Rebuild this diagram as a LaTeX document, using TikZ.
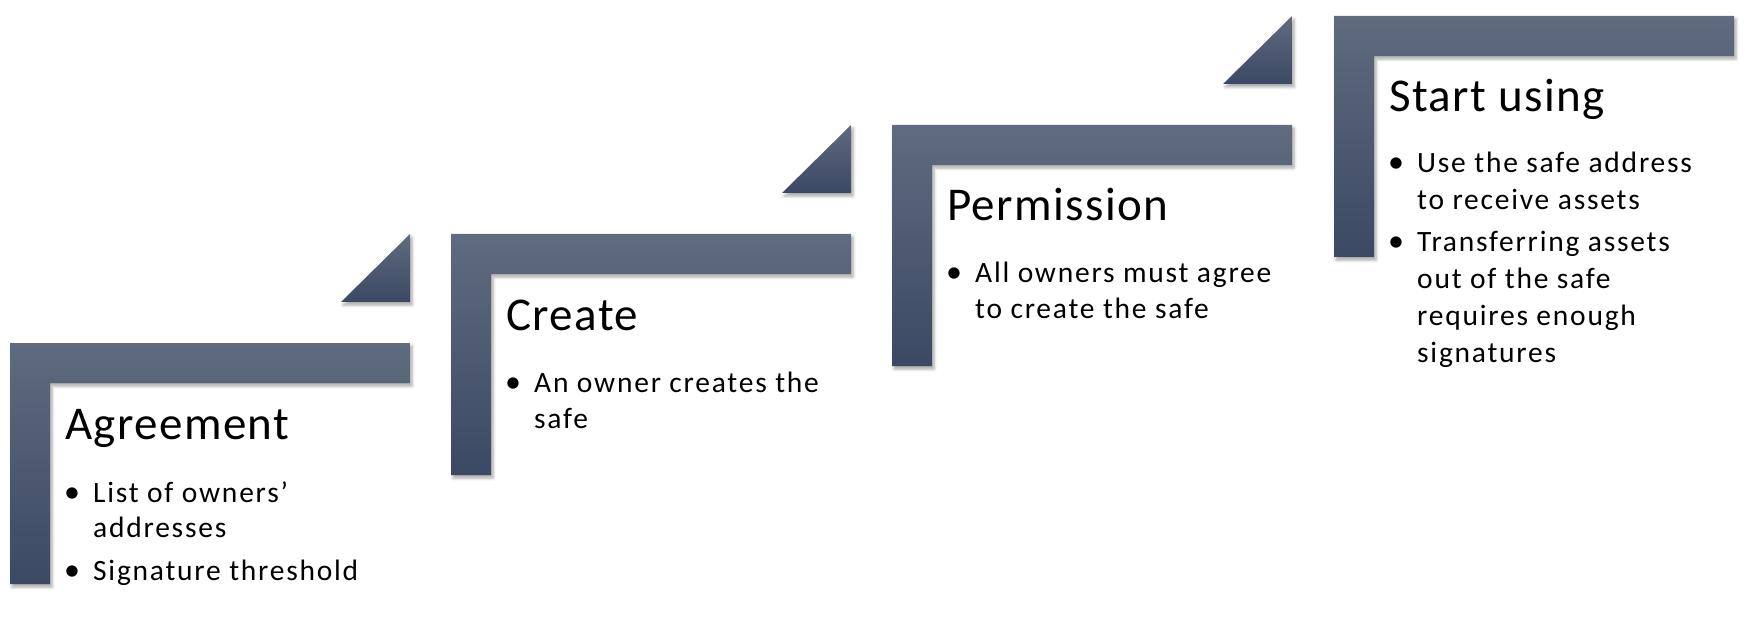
\documentclass[tikz,border=0pt]{standalone}
\usepackage{fontspec}
\setmainfont{Carlito}
\newfontfamily\titlefont[LetterSpace=3]{Carlito}
\newfontfamily\itemfont[LetterSpace=6]{Carlito}
\usetikzlibrary{shadows.blur}
\definecolor{barTop}{HTML}{5F6B7E}
\definecolor{barBot}{HTML}{3B4964}
\tikzset{
  barshape/.style={top color=barTop, bottom color=barBot, draw=none,
    blur shadow={shadow xshift=2pt, shadow yshift=-3pt, shadow blur radius=3pt, shadow opacity=35}},
  titletext/.style={anchor=base west, inner sep=0pt, font=\titlefont\fontsize{47}{50}\selectfont},
  itemtext/.style={anchor=base west, inner sep=0pt, font=\itemfont\fontsize{29.5}{34}\selectfont},
  bulletmark/.style={anchor=base, inner sep=0pt, font=\fontsize{32}{34}\selectfont}
}
\newcommand{\stagebar}[3]{%
  % #1 = x, #2 = y (top-left of the L), #3 = name
  \path[barshape] (#1,#2) -- ++(400,0) -- ++(0,40) -- ++(-360,0) -- ++(0,201) -- ++(-40,0) -- cycle;
}
\newcommand{\stagetri}[2]{%
  \path[barshape] (#1+400,#2-109) -- (#1+400,#2-41) -- (#1+331,#2-41) -- cycle;
}
\begin{document}
\begin{tikzpicture}[x=1pt,y=-1pt]
\useasboundingbox (0,0) rectangle (1745,620);
% stage 1
\stagebar{10}{343}{s1}
\stagetri{10}{343}
\node[titletext] (t1) at (65,439) {Agreement};
\node[bulletmark] (b1a) at (72,502) {\textbullet};
\node[itemtext] (l1a) at (93,502) {List of owners’};
\node[itemtext] (l1b) at (93,537) {addresses};
\node[bulletmark] (b1b) at (72,580) {\textbullet};
\node[itemtext] (l1c) at (93,580) {Signature threshold};
% stage 2
\stagebar{451}{234}{s2}
\stagetri{451}{234}
\node[titletext] (t2) at (506,330) {Create};
\node[bulletmark] (b2a) at (513,392) {\textbullet};
\node[itemtext] (l2a) at (534,392) {An owner creates the};
\node[itemtext] (l2b) at (534,428) {safe};
% stage 3
\stagebar{892}{125}{s3}
\stagetri{892}{125}
\node[titletext] (t3) at (947,221) {Permission};
\node[bulletmark] (b3a) at (954,283) {\textbullet};
\node[itemtext] (l3a) at (975,283) {All owners must agree};
\node[itemtext] (l3b) at (975,319) {to create the safe};
% stage 4
\stagebar{1334}{16}{s4}
\node[titletext] (t4) at (1389,112) {Start using};
\node[bulletmark] (b4a) at (1396,173) {\textbullet};
\node[itemtext] (l4a) at (1417,173) {Use the safe address};
\node[itemtext] (l4b) at (1417,210) {to receive assets};
\node[bulletmark] (b4b) at (1396,252) {\textbullet};
\node[itemtext] (l4c) at (1417,252) {Transferring assets};
\node[itemtext] (l4d) at (1417,288) {out of the safe};
\node[itemtext] (l4e) at (1417,325) {requires enough};
\node[itemtext] (l4f) at (1417,362) {signatures};
\end{tikzpicture}
\end{document}
